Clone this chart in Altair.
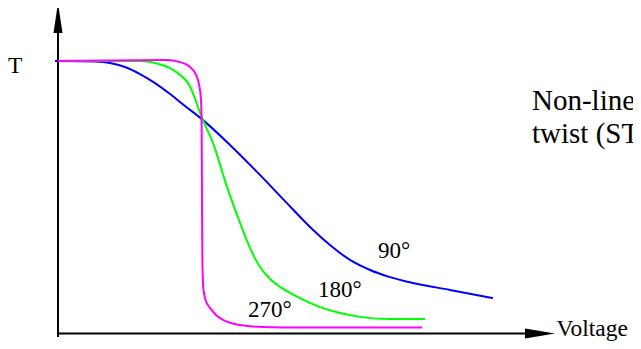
import altair as alt
import pandas as pd

# ---- data (voltage in arbitrary units, T = transmission, 1 = max) ----
blue_v = [-0.06, 0.74, 1.04, 1.34, 1.64, 1.94, 2.24, 2.54, 2.90, 3.44, 3.98, 4.54, 5.04, 5.44, 5.84, 6.24, 6.64, 7.10, 7.84, 8.70]
blue_t = [1.000, 0.998, 0.993, 0.978, 0.952, 0.919, 0.879, 0.835, 0.783, 0.692, 0.593, 0.486, 0.391, 0.325, 0.270, 0.233, 0.207, 0.185, 0.160, 0.130]

green_v = [0.00, 1.64, 1.94, 2.24, 2.44, 2.60, 2.72, 2.80, 2.90, 3.10, 3.38, 3.68, 3.84, 4.04, 4.24, 4.44, 4.84, 5.24, 5.64, 6.04, 6.64, 7.34]
green_t = [1.000, 1.000, 0.993, 0.974, 0.949, 0.919, 0.872, 0.831, 0.783, 0.699, 0.538, 0.387, 0.314, 0.244, 0.200, 0.171, 0.130, 0.097, 0.075, 0.061, 0.053, 0.053]

magenta_v = [0.00, 2.18, 2.44, 2.64, 2.76, 2.83, 2.86, 2.872, 2.88, 2.888, 2.904, 2.95, 3.04, 3.16, 3.30, 3.64, 4.10, 4.84, 7.28]
magenta_t = [1.000, 1.004, 0.996, 0.978, 0.949, 0.905, 0.857, 0.783, 0.489, 0.270, 0.171, 0.123, 0.094, 0.068, 0.050, 0.031, 0.024, 0.022, 0.022]

label_text = ["90°", "180°", "270°"]
label_v = [6.40, 5.20, 3.80]
label_t = [0.277, 0.134, 0.061]

note_lines = ["Non-linearity increases with", "twist (STN effect)"]
note_v = [9.48, 9.48]
note_t = [0.819, 0.700]

axis_titles = ["T", "Voltage"]
axis_title_v = [-1.0, 9.97]
axis_title_t = [0.956, -0.0075]

# ---- layout constants ----
X_DOM = [-1.0, 11.5]
Y_DOM = [-0.0275, 1.1945]
xs = alt.Scale(domain=X_DOM, nice=False, zero=False)
ys = alt.Scale(domain=Y_DOM, nice=False, zero=False)
FONT = "Liberation Serif, Times New Roman, Times, serif"


def curve(v, t, color):
    df = pd.DataFrame({"v": v, "t": t, "i": list(range(len(v)))})
    return alt.Chart(df).mark_line(color=color, strokeWidth=2, interpolate="monotone").encode(
        x=alt.X("v:Q", scale=xs, axis=None),
        y=alt.Y("t:Q", scale=ys, axis=None),
        order="i:Q",
    )


vaxis = alt.Chart(pd.DataFrame({"v": [0.0], "t": [-0.013], "t2": [1.103]})).mark_rule(
    color="black", strokeWidth=2).encode(
    x=alt.X("v:Q", scale=xs, axis=None), y=alt.Y("t:Q", scale=ys, axis=None), y2="t2:Q")

haxis = alt.Chart(pd.DataFrame({"v": [-0.02], "v2": [9.40], "t": [0.0]})).mark_rule(
    color="black", strokeWidth=2).encode(
    x=alt.X("v:Q", scale=xs, axis=None), x2="v2:Q", y=alt.Y("t:Q", scale=ys, axis=None))

up_head = alt.Chart(pd.DataFrame({"v": [0.0], "t": [1.158]})).mark_point(
    shape="M0,-1L0.3,1L-0.3,1Z", filled=True, color="black", opacity=1, size=900, strokeWidth=0).encode(
    x=alt.X("v:Q", scale=xs, axis=None), y=alt.Y("t:Q", scale=ys, axis=None))

right_head = alt.Chart(pd.DataFrame({"v": [9.64], "t": [0.0]})).mark_point(
    shape="M1,0L-1,0.333L-1,-0.333Z", filled=True, color="black", opacity=1, size=900, strokeWidth=0).encode(
    x=alt.X("v:Q", scale=xs, axis=None), y=alt.Y("t:Q", scale=ys, axis=None))

labels = alt.Chart(pd.DataFrame({"v": label_v, "t": label_t, "s": label_text})).mark_text(
    align="left", baseline="alphabetic", font=FONT, fontSize=23, color="black").encode(
    x=alt.X("v:Q", scale=xs, axis=None), y=alt.Y("t:Q", scale=ys, axis=None), text="s:N")

titles = alt.Chart(pd.DataFrame({"v": axis_title_v, "t": axis_title_t, "s": axis_titles})).mark_text(
    align="left", baseline="alphabetic", font=FONT, fontSize=23.5, color="black").encode(
    x=alt.X("v:Q", scale=xs, axis=None), y=alt.Y("t:Q", scale=ys, axis=None), text="s:N")

note = alt.Chart(pd.DataFrame({"v": note_v, "t": note_t, "s": note_lines})).mark_text(
    align="left", baseline="alphabetic", font=FONT, fontSize=29, color="black", clip=True).encode(
    x=alt.X("v:Q", scale=xs, axis=None), y=alt.Y("t:Q", scale=ys, axis=None), text="s:N")

chart = alt.layer(
    vaxis, haxis, up_head, right_head,
    curve(blue_v, blue_t, "#0000ff"),
    curve(green_v, green_t, "#00ff00"),
    curve(magenta_v, magenta_t, "#ff00ff"),
    labels, titles, note,
).properties(
    width=625, height=333, padding=0,
    autosize=alt.AutoSizeParams(type="none"),
    background="white",
).configure_view(stroke=None)

chart.save("out.html", embed_options={"renderer": "svg", "actions": False})
